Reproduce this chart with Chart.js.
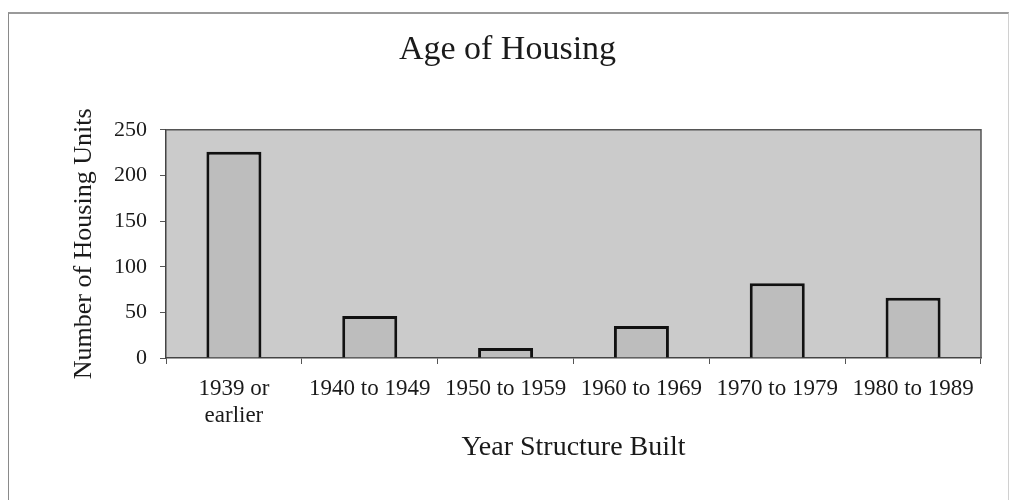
<!DOCTYPE html>
<html>
<head>
<meta charset="utf-8">
<script src="https://cdn.jsdelivr.net/npm/chart.js@4/dist/chart.umd.min.js"></script>
<style>
  html, body { margin: 0; padding: 0; background: #ffffff; }
  #wrap { position: relative; width: 1015px; height: 500px; }
  #frame { position: absolute; left: 8px; top: 12px; width: 1001px; height: 500px;
           border-left: 1px solid #8a8a8a; border-top: 2px solid #9a9a9a; border-right: 1px solid #d0d0d0;
           pointer-events: none; box-sizing: border-box; }
  canvas { display: block; }
</style>
</head>
<body>
<div id="wrap">
  <canvas id="c" width="1015" height="500"></canvas>
  <div id="frame"></div>
</div>
<script>
const categories = [["1939 or", "earlier"], "1940 to 1949", "1950 to 1959", "1960 to 1969", "1970 to 1979", "1980 to 1989"];
const housingUnits = [226, 46, 11, 35, 82, 66];
const yTicks = [0, 50, 100, 150, 200, 250];

const chartTitle = "Age of Housing";
const xTitle = "Year Structure Built";
const yTitle = "Number of Housing Units";

const SERIF = "'Liberation Serif', 'Times New Roman', serif";

const plotBg = {
  id: 'plotBg',
  beforeDraw(chart) {
    const { ctx, chartArea: a } = chart;
    ctx.save();
    ctx.fillStyle = '#cbcbcb';
    ctx.fillRect(a.left, a.top, a.right - a.left, a.bottom - a.top);
    ctx.restore();
  },
  afterDatasetsDraw(chart) {
    const { ctx, chartArea: a } = chart;
    ctx.save();
    ctx.strokeStyle = '#555555';
    ctx.lineWidth = 1.5;
    ctx.beginPath();
    ctx.moveTo(a.left, a.top);
    ctx.lineTo(a.right, a.top);
    ctx.lineTo(a.right, a.bottom);
    ctx.stroke();
    ctx.restore();
  }
};

new Chart(document.getElementById('c'), {
  type: 'bar',
  data: {
    labels: categories,
    datasets: [{
      data: housingUnits,
      backgroundColor: '#bdbdbd',
      borderColor: '#111111',
      borderWidth: 3,
      barPercentage: 0.405,
      categoryPercentage: 1.0
    }]
  },
  options: {
    responsive: false,
    animation: false,
    devicePixelRatio: 1,
    layout: { padding: { left: 34, right: 34, top: 0, bottom: 0 } },
    plugins: {
      legend: { display: false },
      tooltip: { enabled: false },
      title: {
        display: true,
        text: chartTitle,
        color: '#1a1a1a',
        font: { family: SERIF, size: 34, weight: 'normal', lineHeight: 1.2 },
        padding: { top: 30, bottom: 59 }
      }
    },
    scales: {
      x: {
        afterFit(scale) { scale.height = 142; },
        grid: { display: true, drawOnChartArea: false, drawTicks: true, tickLength: 6, color: '#555555', lineWidth: 1 },
        border: { display: true, color: '#444444', width: 1.5 },
        ticks: {
          color: '#1a1a1a',
          padding: 11,
          maxRotation: 0,
          autoSkip: false,
          font: { family: SERIF, size: 23, lineHeight: 1.2 }
        },
        title: {
          display: true,
          text: xTitle,
          color: '#1a1a1a',
          font: { family: SERIF, size: 28, lineHeight: 1.2 },
          padding: { top: 0, bottom: 36 }
        }
      },
      y: {
        min: 0,
        max: 250,
        afterFit(scale) { scale.width = 132; },
        afterBuildTicks(scale) { scale.ticks = yTicks.map(v => ({ value: v })); },
        grid: { display: true, drawOnChartArea: false, drawTicks: true, tickLength: 6, color: '#555555', lineWidth: 1 },
        border: { display: true, color: '#444444', width: 1.5 },
        ticks: {
          color: '#1a1a1a',
          padding: 13,
          font: { family: SERIF, size: 22 }
        },
        title: {
          display: true,
          text: yTitle,
          color: '#1a1a1a',
          font: { family: SERIF, size: 26, lineHeight: 1.2 },
          padding: { top: 35, bottom: 0 }
        }
      }
    }
  },
  plugins: [plotBg]
});
</script>
</body>
</html>
